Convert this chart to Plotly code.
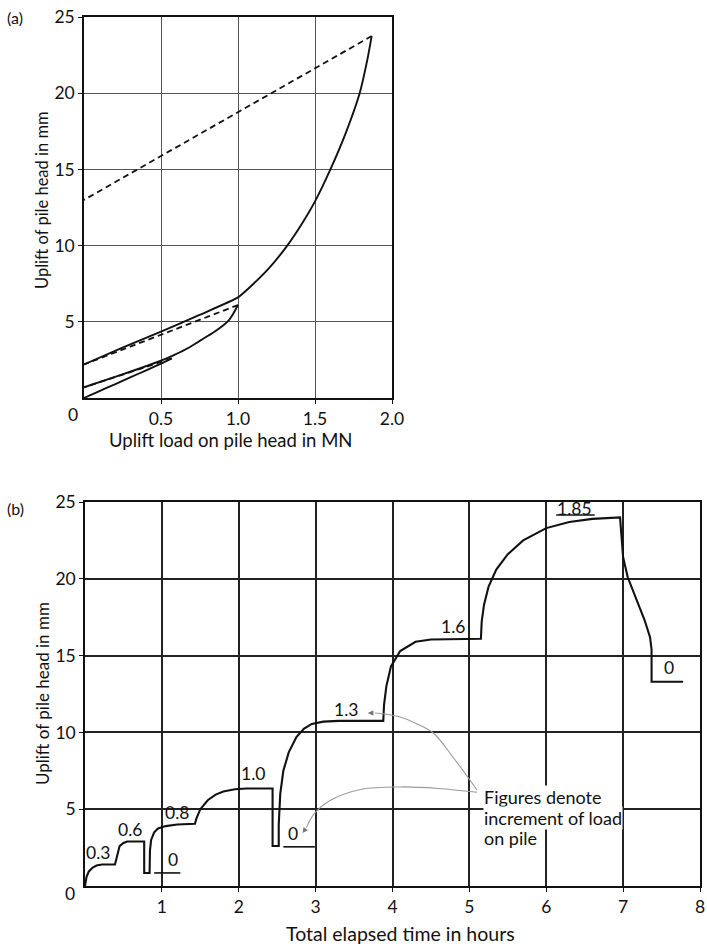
import plotly.graph_objects as go

# ---------------- (a) load–uplift data ----------------
load1_x = [0, 0.1, 0.2, 0.3, 0.4, 0.5, 0.57]
load1_y = [0, 0.45, 0.9, 1.35, 1.8, 2.25, 2.6]
unload1_x = [0.57, 0]
unload1_y = [2.6, 0.7]
load2_x = [0, 0.25, 0.37, 0.5, 0.58, 0.68, 0.76, 0.84, 0.89, 0.94, 0.97, 1.0]
load2_y = [0.7, 1.55, 1.97, 2.45, 2.8, 3.3, 3.8, 4.3, 4.66, 5.1, 5.55, 6.1]
unload2_x = [1.0, 0]
unload2_y = [6.1, 2.2]
load3_x = [0, 0.25, 0.5, 0.75, 1.0, 1.08, 1.2, 1.32, 1.41, 1.5, 1.6, 1.7, 1.79, 1.84, 1.868]
load3_y = [2.2, 3.3, 4.35, 5.45, 6.6, 7.3, 8.5, 10.0, 11.35, 12.9, 15.0, 17.4, 20.0, 22.2, 23.75]
unload3_x = [1.868, 0]
unload3_y = [23.75, 13.0]

# ---------------- (b) time–uplift data ----------------
time_h = [0, 0.02, 0.05, 0.1, 0.15, 0.22, 0.39,
          0.40, 0.42, 0.45, 0.5, 0.55, 0.77,
          0.77, 0.84,
          0.845, 0.86, 0.9, 0.95, 1.05, 1.2, 1.43,
          1.45, 1.5, 1.6, 1.7, 1.8, 1.95, 2.1, 2.44,
          2.44, 2.52,
          2.52, 2.54, 2.58, 2.65, 2.75, 2.85, 2.95, 3.1, 3.3, 3.88,
          3.89, 3.92, 3.98, 4.1, 4.3, 4.5, 5.15,
          5.16, 5.19, 5.25, 5.35, 5.5, 5.7, 6.0, 6.3, 6.6, 6.96,
          7.0, 7.06, 7.18, 7.28, 7.35, 7.37,
          7.37, 7.78]
uplift_mm = [0, 0.6, 0.95, 1.2, 1.33, 1.4, 1.4,
             1.6, 2.2, 2.6, 2.8, 2.9, 2.9,
             0.85, 0.85,
             2.3, 3.0, 3.5, 3.75, 3.9, 4.0, 4.05,
             4.4, 5.0, 5.6, 5.95, 6.15, 6.3, 6.35, 6.35,
             2.6, 2.6,
             4.0, 6.0, 7.5, 8.7, 9.7, 10.25, 10.55, 10.7, 10.75, 10.75,
             11.8, 13.0, 14.3, 15.3, 15.9, 16.05, 16.1,
             17.2, 18.3, 19.5, 20.6, 21.6, 22.5, 23.3, 23.7, 23.9, 24.0,
             21.4, 20.1, 18.6, 17.3, 16.2, 15.4,
             13.3, 13.3]

# load increment labels (text, time, uplift)
inc_text = ["0.3", "0.6", "0.8", "0", "1.0", "0", "1.3", "1.6", "1.85", "0"]
inc_t = [0.17, 0.59, 1.20, 1.15, 2.18, 2.70, 3.40, 4.79, 6.37, 7.60]
inc_v = [2.2, 3.7, 4.8, 1.7, 7.3, 3.45, 11.5, 16.9, 24.55, 14.2]

# note lines (text, uplift of line centre)
note_text = ["Figures denote", "increment of load", "on pile"]
note_v = [5.79, 4.43, 3.13]
note_t = 5.18

# underline marks below some labels
under1_t = [0.90, 1.24]
under1_v = [0.85, 0.85]
under2_t = [2.58, 2.99]
under2_v = [2.55, 2.55]
under3_t = [6.13, 6.63]
under3_v = [24.15, 24.15]

# pointer curves from the note
ptr1_t = [5.10, 4.80, 4.53, 4.30, 4.10, 3.90, 3.77]
ptr1_v = [6.25, 8.30, 9.96, 10.60, 11.00, 11.20, 11.26]
ptr2_t = [5.10, 4.60, 4.10, 3.60, 3.20, 2.98, 2.88]
ptr2_v = [6.10, 6.35, 6.45, 6.30, 5.60, 4.70, 3.80]

FONT = "Lato"
BLK = "#111111"
pw, ph = 707, 950


def fx(x):
    return x / pw


def fy(y):
    return 1 - y / ph


fig = go.Figure()

solid = dict(color=BLK, width=1.9, shape="spline", smoothing=0.5)
dashed = dict(color=BLK, width=1.8, dash="6px,4px")
for xs, ys, ln in [(load1_x, load1_y, solid), (unload1_x, unload1_y, dashed),
                   (load2_x, load2_y, solid), (unload2_x, unload2_y, dashed),
                   (load3_x, load3_y, solid), (unload3_x, unload3_y, dashed)]:
    fig.add_trace(go.Scatter(x=xs, y=ys, mode="lines", line=ln,
                             xaxis="x", yaxis="y", hoverinfo="skip"))

fig.add_trace(go.Scatter(x=time_h, y=uplift_mm, mode="lines",
                         line=dict(color=BLK, width=2.1), xaxis="x2", yaxis="y2", hoverinfo="skip"))
for xs, ys in [(under1_t, under1_v), (under2_t, under2_v), (under3_t, under3_v)]:
    fig.add_trace(go.Scatter(x=xs, y=ys, mode="lines", line=dict(color=BLK, width=1.6),
                             xaxis="x2", yaxis="y2", hoverinfo="skip"))
for xs, ys in [(ptr1_t, ptr1_v), (ptr2_t, ptr2_v)]:
    fig.add_trace(go.Scatter(x=xs, y=ys, mode="lines", line=dict(color="#9a9a9a", width=1.1, shape="spline"),
                             xaxis="x2", yaxis="y2", hoverinfo="skip"))

annotations = []
for t, x, y in zip(inc_text, inc_t, inc_v):
    annotations.append(dict(x=x, y=y, xref="x2", yref="y2", text=t, showarrow=False,
                            xanchor="center", yanchor="middle",
                            font=dict(family=FONT, size=17.5, color=BLK)))
# arrow heads on pointer curves
annotations.append(dict(x=3.68, y=11.26, ax=ptr1_t[-1], ay=ptr1_v[-1], xref="x2", yref="y2",
                        axref="x2", ayref="y2", text="", showarrow=True, arrowhead=2,
                        arrowsize=1, arrowwidth=1.1, arrowcolor="#777777"))
annotations.append(dict(x=2.83, y=3.45, ax=ptr2_t[-1], ay=ptr2_v[-1], xref="x2", yref="y2",
                        axref="x2", ayref="y2", text="", showarrow=True, arrowhead=2,
                        arrowsize=1, arrowwidth=1.1, arrowcolor="#777777"))
for txt, v in zip(note_text, note_v):
    annotations.append(dict(x=note_t, y=v, xref="x2", yref="y2", xanchor="left", yanchor="middle",
                            showarrow=False, bgcolor="white", borderpad=0, text=txt,
                            font=dict(family=FONT, size=18, color=BLK)))

# panel labels, corner zeros, axis titles (reference pixel positions)
for txt, (x, y), size, ang in [("(a)", (15, 18), 16, 0), ("(b)", (15, 508), 16, 0),
                               ("0", (73, 414), 17.5, 0), ("0", (70, 893), 17.5, 0),
                               ("Uplift load on pile head in MN", (230, 440), 18.5, 0),
                               ("Total elapsed time in hours", (400, 933), 19.5, 0),
                               ("Uplift of pile head in mm", (42, 200), 16.5, -90),
                               ("Uplift of pile head in mm", (42, 694), 17, -90)]:
    annotations.append(dict(x=fx(x), y=fy(y), xref="paper", yref="paper", text=txt, showarrow=False,
                            xanchor="center", yanchor="middle",
                            textangle=ang, font=dict(family=FONT, size=size, color=BLK)))

axis_common = dict(showline=True, linecolor=BLK, linewidth=1.6, mirror=True,
                   ticks="outside", ticklen=4, tickcolor=BLK, automargin=False,
                   tickfont=dict(family=FONT, size=17.5, color=BLK), zeroline=False,
                   showgrid=True)

fig.update_layout(
    width=pw, height=ph, margin=dict(l=0, r=0, t=0, b=0, autoexpand=False),
    paper_bgcolor="white", plot_bgcolor="white", showlegend=False,
    xaxis=dict(**axis_common, domain=[fx(84), fx(392)], range=[0, 2.0],
               tickvals=[0.5, 1.0, 1.5, 2.0], ticktext=["0.5", "1.0", "1.5", "2.0"],
               gridcolor="#555555", gridwidth=1.1, anchor="y"),
    yaxis=dict(**axis_common, domain=[fy(398), fy(17)], range=[0, 25],
               tickvals=[5, 10, 15, 20, 25], gridcolor="#555555", gridwidth=1.1, anchor="x"),
    xaxis2=dict(**axis_common, domain=[fx(85), fx(700)], range=[0, 8],
                tickvals=[1, 2, 3, 4, 5, 6, 7, 8], gridcolor="#222222", gridwidth=1.5, anchor="y2"),
    yaxis2=dict(**axis_common, domain=[fy(886), fy(502)], range=[0, 25],
                tickvals=[5, 10, 15, 20, 25], gridcolor="#222222", gridwidth=1.5, anchor="x2"),
    annotations=annotations,
)

fig.write_html("out.html", config={"displayModeBar": False},
               post_script="document.body.style.margin='0px';document.body.style.overflow='hidden';")
